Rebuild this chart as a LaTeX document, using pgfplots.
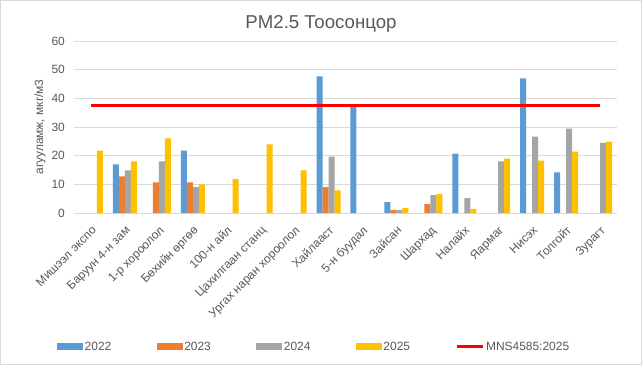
\documentclass[border=0pt]{standalone}
\usepackage{pgfplots}
\pgfplotsset{compat=1.18}
\usepackage{fontspec}
\setmainfont{Liberation Sans}
\definecolor{c22}{HTML}{5B9BD5}
\definecolor{c23}{HTML}{ED7D31}
\definecolor{c24}{HTML}{A5A5A5}
\definecolor{c25}{HTML}{FFC000}
\definecolor{txt}{HTML}{595959}
\definecolor{gridc}{HTML}{D9D9D9}
\begin{document}
\begin{tikzpicture}[x=1bp,y=1bp]
\fill[white] (0,0) rectangle (642,365);
\draw[draw=gridc, line width=1bp] (0.5,0.5) rectangle (641.5,364.5);
\node[anchor=base, text=txt, font=\fontsize{18.7}{22}\selectfont] at (321,336.7) {PM2.5 Тоосонцор};
\begin{axis}[
  at={(74bp,152bp)}, anchor=south west,
  scale only axis, width=543bp, height=172bp,
  xmin=-0.5, xmax=15.5, ymin=0, ymax=60,
  xtick={0,...,15},
  xticklabels={Мишээл экспо, Баруун 4-н зам, 1-р хороолол, Бөхийн өргөө, 100-н айл, Цахилгаан станц, Ургах наран хороолол, Хайлааст, 5-н буудал, Зайсан, Шархад, Налайх, Яармаг, Нисэх, Толгойт, Зурагт},
  ytick={0,10,...,60},
  ymajorgrids, grid style={draw=gridc, line width=0.75bp},
  axis x line*=bottom, axis y line*=left,
  x axis line style={draw=gridc, line width=0.75bp, -},
  y axis line style={draw=none},
  major tick length=0pt, tick style={draw=none},
  ticklabel style={font=\fontsize{12}{14}\selectfont, text=txt},
  /pgf/number format/assume math mode=true,
  yticklabel style={inner sep=0pt, anchor=east, xshift=-9bp},
  xticklabel style={inner sep=0pt, xshift=6bp, yshift=-18bp, rotate=45, anchor=base east},
  ylabel={агууламж, мкг/м3},
  ylabel style={at={(axis description cs:-0.0626,0.5)}, anchor=center, font=\fontsize{12}{14}\selectfont, text=txt},
  legend columns=5,
  legend style={at={(-0.0313,-0.779)}, anchor=west, draw=none, fill=none, inner sep=0pt,
    font=\fontsize{12}{14}\selectfont, text=txt, nodes={inner sep=1.5bp},
    /tikz/every even column/.append style={column sep=44bp}},
]
\addplot[ybar, bar width=6bp, bar shift=-9bp, fill=c22, draw=none,
  legend image code/.code={\fill[c22] (0bp,-3.5bp) rectangle (26bp,3.5bp);}]
  coordinates {(1,17.0) (3,21.8) (7,47.7) (8,37.0) (9,3.8) (11,20.7) (13,47.0) (14,14.2)};
\addlegendentry{2022}
\addplot[ybar, bar width=6bp, bar shift=-3bp, fill=c23, draw=none,
  legend image code/.code={\fill[c23] (0bp,-3.5bp) rectangle (26bp,3.5bp);}]
  coordinates {(1,12.8) (2,10.7) (3,10.7) (7,9.0) (9,1.0) (10,3.1)};
\addlegendentry{2023}
\addplot[ybar, bar width=6bp, bar shift=3bp, fill=c24, draw=none,
  legend image code/.code={\fill[c24] (0bp,-3.5bp) rectangle (26bp,3.5bp);}]
  coordinates {(1,14.9) (2,18.0) (3,9.0) (7,19.7) (9,1.0) (10,6.2) (11,5.2) (12,18.0) (13,26.6) (14,29.4) (15,24.5)};
\addlegendentry{2024}
\addplot[ybar, bar width=6bp, bar shift=9bp, fill=c25, draw=none,
  legend image code/.code={\fill[c25] (0bp,-3.5bp) rectangle (26bp,3.5bp);}]
  coordinates {(0,21.8) (1,18.0) (2,26.0) (3,10.0) (4,11.8) (5,23.9) (6,14.9) (7,7.9) (9,1.7) (10,6.6) (11,1.4) (12,19.0) (13,18.3) (14,21.4) (15,24.9)};
\addlegendentry{2025}
\addplot[sharp plot, mark=none, draw=red, line width=3bp,
  legend image code/.code={\draw[red, line width=3bp] (0bp,0bp) -- (26bp,0bp);}]
  coordinates {(0,37.5) (1,37.5) (2,37.5) (3,37.5) (4,37.5) (5,37.5) (6,37.5) (7,37.5) (8,37.5) (9,37.5) (10,37.5) (11,37.5) (12,37.5) (13,37.5) (14,37.5) (15,37.5)};
\addlegendentry{MNS4585:2025}
\end{axis}
\pgfresetboundingbox
\path (0,0) rectangle (642,365);
\end{tikzpicture}
\end{document}
